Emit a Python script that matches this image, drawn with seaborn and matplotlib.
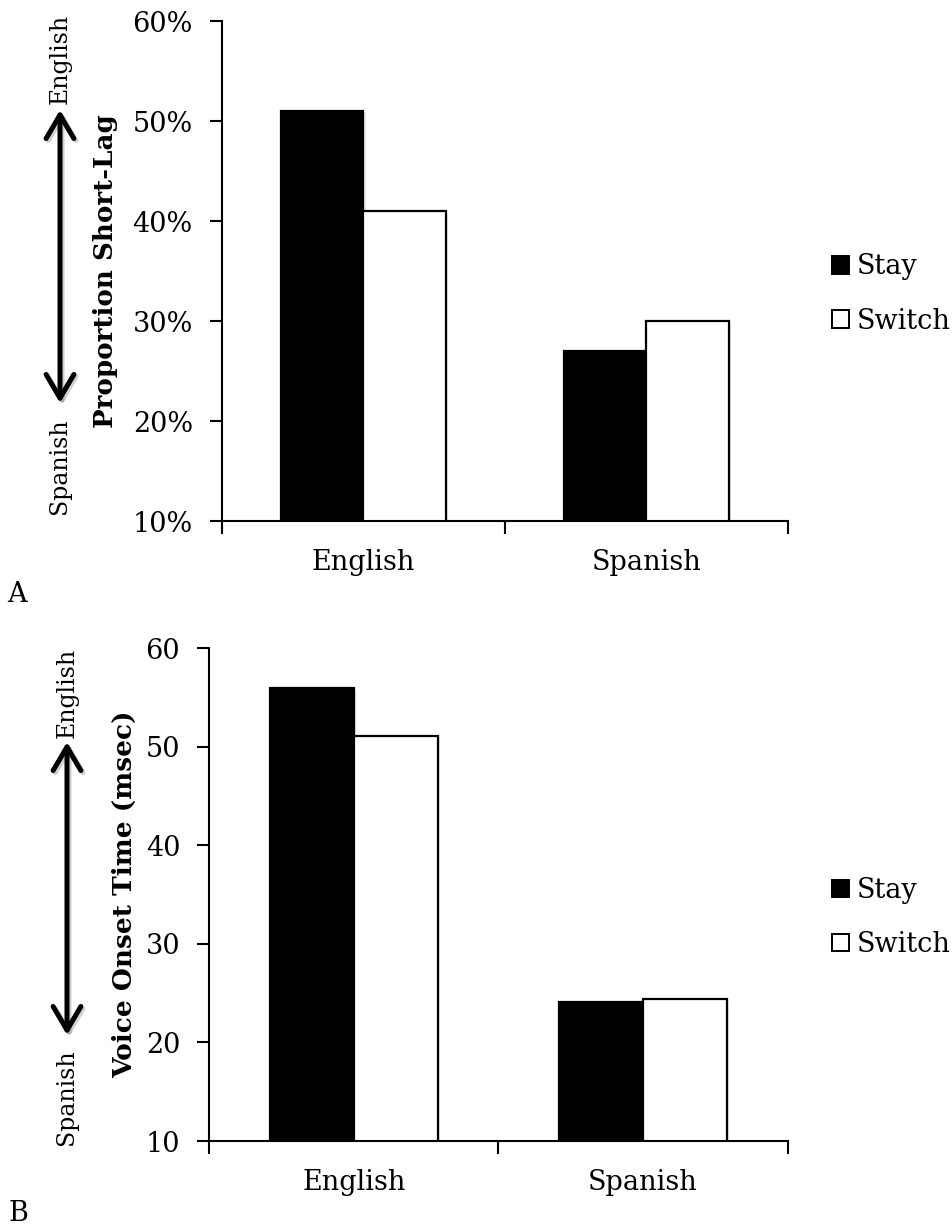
import matplotlib
matplotlib.use("Agg")
import matplotlib.pyplot as plt
import matplotlib.patheffects as pe
from matplotlib.patches import FancyArrowPatch, Patch
from matplotlib.ticker import PercentFormatter
import pandas as pd
import seaborn as sns

# Data
languages = ["English", "Spanish"]
conditions = ["Stay", "Switch"]
short_lag_stay = [51, 27]        # percent short-lag responses
short_lag_switch = [41, 30]
vot_stay = [56.0, 24.1]          # voice onset time, msec
vot_switch = [51.1, 24.4]
pct_ticks = [10, 20, 30, 40, 50, 60]
vot_ticks = [10, 20, 30, 40, 50, 60]

sns.set_theme(style="white")
plt.rcParams["font.family"] = ["DejaVu Serif"]
for key in ["text.color", "axes.labelcolor", "xtick.color", "ytick.color", "axes.edgecolor"]:
    plt.rcParams[key] = "black"

W, H = 953, 1228
fig = plt.figure(figsize=(W / 100, H / 100), dpi=100)
palette = dict(zip(conditions, ["black", "white"]))
shadow = [pe.SimplePatchShadow(offset=(1.5, -1.5), shadow_rgbFace="0.5", alpha=0.18), pe.Normal()]

TICK_FS = 19.5


def draw_panel(rect, stay, switch, ticks, ylabel, label_x, label_fs, pct):
    ax = fig.add_axes(rect)
    df = pd.DataFrame({
        "language": languages * 2,
        "condition": [conditions[0]] * 2 + [conditions[1]] * 2,
        "value": list(stay) + list(switch),
    })
    sns.barplot(data=df, x="language", y="value", hue="condition",
                hue_order=conditions, order=languages, palette=palette,
                saturation=1, width=0.58, edgecolor="black", linewidth=1.6,
                errorbar=None, legend=False, ax=ax)
    for p in ax.patches:
        p.set_path_effects(shadow)
    ax.set_ylim(ticks[0], ticks[-1])
    ax.set_yticks(ticks)
    if pct:
        ax.yaxis.set_major_formatter(PercentFormatter(xmax=100, decimals=0))
    ax.set_xlim(-0.5, len(languages) - 0.5)
    ax.set_xticks([i - 0.5 for i in range(len(languages) + 1)])
    ax.set_xticklabels([])
    ax.set_xticks(range(len(languages)), labels=languages, minor=True)
    ax.tick_params(axis="x", which="major", direction="out", length=9, width=1.5, bottom=True)
    ax.tick_params(axis="x", which="minor", length=0, pad=20, labelsize=TICK_FS, bottom=True)
    ax.tick_params(axis="y", direction="out", length=9, width=1.5, pad=12, labelsize=TICK_FS, left=True)
    for s in ["top", "right"]:
        ax.spines[s].set_visible(False)
    for s in ["left", "bottom"]:
        ax.spines[s].set_linewidth(1.5)
        ax.spines[s].set_color("black")
    ax.set_xlabel("")
    ax.set_ylabel(ylabel, fontsize=label_fs, fontweight="bold")
    ax.yaxis.set_label_coords(label_x, 0.5)
    return ax


def px(x, y):
    return x / W, 1 - y / H


# Panel A
draw_panel([222 / W, 1 - 521 / H, 566 / W, 500 / H], short_lag_stay, short_lag_switch,
           pct_ticks, "Proportion Short-Lag", -0.184, 18.8, True)
# Panel B
draw_panel([209.3 / W, 1 - 1141 / H, 578.2 / W, 492.7 / H], vot_stay, vot_switch,
           vot_ticks, "Voice Onset Time (msec)", -0.125, 19, False)

handles = [Patch(facecolor=palette[c], edgecolor="black", linewidth=1.4) for c in conditions]
for cy in (294, 917.5):
    fig.legend(handles, conditions, loc="center left", bbox_to_anchor=px(832, cy),
               frameon=False, borderpad=0, borderaxespad=0, fontsize=TICK_FS,
               handlelength=0.63, handleheight=0.63, handletextpad=0.27, labelspacing=1.0)

# Direction arrows along the left margin
for x, top, bottom, eng_y, spa_y in [(60, 110, 403, 59, 466), (67, 742, 1035, 693, 1097)]:
    arr = FancyArrowPatch(px(x, top), px(x, bottom), transform=fig.transFigure,
                          arrowstyle="<->,head_length=0.85,head_width=0.5", mutation_scale=20,
                          lw=3.6, color="black", shrinkA=0, shrinkB=0,
                          capstyle="round", joinstyle="round",
                          path_effects=[pe.SimpleLineShadow(offset=(1.5, -1.5), alpha=0.2), pe.Normal()])
    fig.add_artist(arr)
    fig.text(*px(x, eng_y), "English", rotation=90, ha="center", va="center", fontsize=17)
    fig.text(*px(x, spa_y), "Spanish", rotation=90, ha="center", va="center", fontsize=17)

fig.text(*px(7, 602), "A", fontsize=TICK_FS, ha="left", va="baseline")
fig.text(*px(8, 1221), "B", fontsize=TICK_FS, ha="left", va="baseline")

fig.savefig("out.png", dpi=100)
